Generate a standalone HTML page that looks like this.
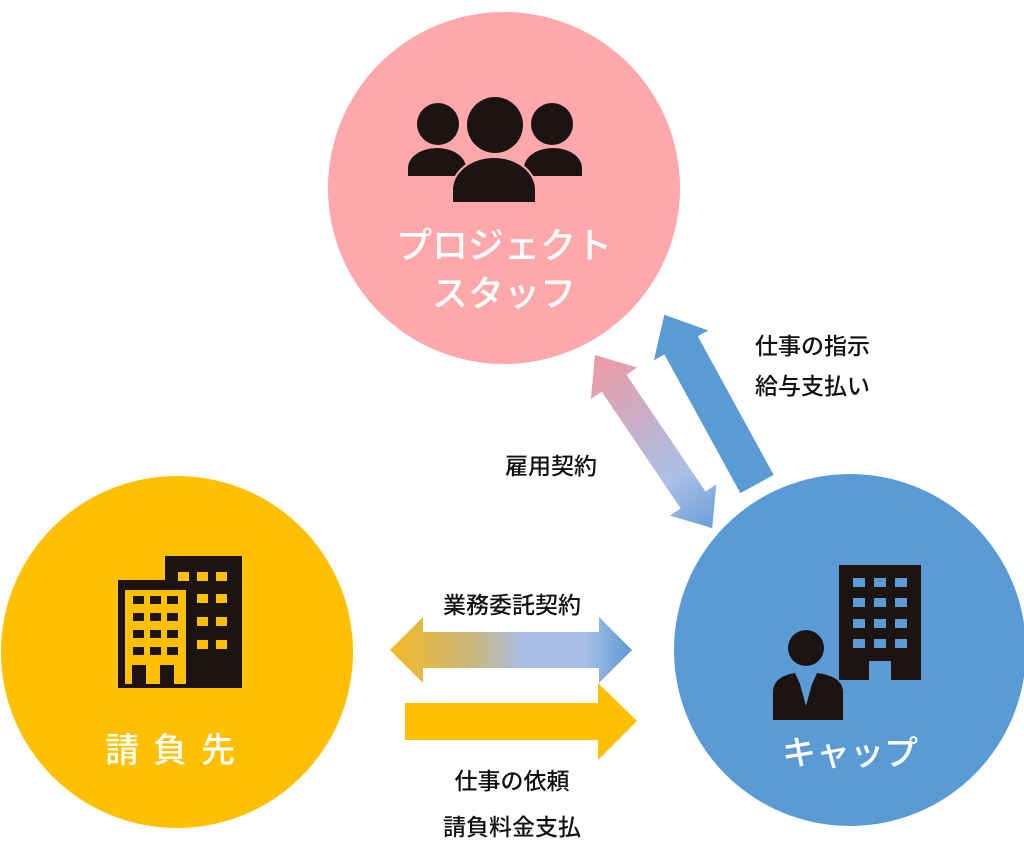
<!DOCTYPE html>
<html><head><meta charset="utf-8"><style>
html,body{margin:0;padding:0;background:#fff;}
svg{display:block}
text{font-family:"Liberation Sans","Noto Sans CJK JP",sans-serif;}
</style></head><body>
<svg width="1024" height="848" viewBox="0 0 1024 848" xmlns="http://www.w3.org/2000/svg">
<defs>
<linearGradient id="gd" x1="0" y1="0" x2="1" y2="0">
<stop offset="0" stop-color="#ef9aa4"/><stop offset="0.7" stop-color="#a9c0e6"/><stop offset="1" stop-color="#6d9fd8"/>
</linearGradient>
<linearGradient id="gh" x1="0" y1="0" x2="1" y2="0">
<stop offset="0" stop-color="#f3bb22"/><stop offset="0.35" stop-color="#c8b780"/><stop offset="0.55" stop-color="#a9bfe6"/><stop offset="0.8" stop-color="#a9bfe6"/><stop offset="1" stop-color="#5b9bd5"/>
</linearGradient>
</defs>
<circle cx="504" cy="188" r="176" fill="#fea8ab"/>
<circle cx="177" cy="652" r="176" fill="#fec000"/>
<circle cx="850" cy="650" r="176" fill="#5b9bd5"/>

<g fill="#1c1413">
<circle cx="495" cy="125" r="28"/>
<circle cx="438" cy="124" r="21"/>
<circle cx="552" cy="124" r="21"/>
<path d="M408 176 V168 a29 20 0 0 1 58 0 V176 Z"/>
<path d="M524 176 V168 a29 20 0 0 1 58 0 V176 Z"/>
<path d="M453 202 V190 a41 32 0 0 1 82 0 V202 Z" stroke="#fea8ab" stroke-width="4" paint-order="stroke"/>
</g>
<text x="504" y="258" font-size="36" fill="#fff" text-anchor="middle" font-weight="500">プロジェクト</text>
<text x="504" y="306" font-size="36" fill="#fff" text-anchor="middle" font-weight="500">スタッフ</text>

<g fill="#1c1413">
<rect x="165" y="556" width="77" height="132"/>
<rect x="118" y="580" width="74" height="108"/>
</g>
<g fill="#fec000">
<path d="M125 590 H186 V684 H174 V665 H160 V684 H146 V665 H132 V684 H125 Z"/>
<rect x="178" y="572" width="11" height="9"/><rect x="197" y="572" width="11" height="9"/><rect x="216" y="572" width="11" height="9"/>
<rect x="197" y="594" width="11" height="9"/><rect x="216" y="594" width="11" height="9"/>
<rect x="197" y="617" width="11" height="9"/><rect x="216" y="617" width="11" height="9"/>
<rect x="197" y="640" width="11" height="9"/><rect x="216" y="640" width="11" height="9"/>
</g>
<g fill="#1c1413">
<rect x="133" y="596" width="11" height="8"/><rect x="150" y="596" width="11" height="8"/><rect x="167" y="596" width="11" height="8"/>
<rect x="133" y="613" width="11" height="8"/><rect x="150" y="613" width="11" height="8"/><rect x="167" y="613" width="11" height="8"/>
<rect x="133" y="630" width="11" height="8"/><rect x="150" y="630" width="11" height="8"/><rect x="167" y="630" width="11" height="8"/>
<rect x="133" y="647" width="11" height="8"/><rect x="150" y="647" width="11" height="8"/><rect x="167" y="647" width="11" height="8"/>
</g>
<text x="177" y="762" font-size="34" fill="#fff" text-anchor="middle" font-weight="500" letter-spacing="14">請負先</text>

<g fill="#1c1413">
<path d="M839 565 H921 V680 H891 V661 H869 V680 H839 Z"/>
<circle cx="806" cy="648" r="18"/>
<path d="M773 720 V690 Q775 676 795 673 L800 684 L806 706 L812 684 L817 673 Q841 676 843 690 V720 Z"/>
</g>
<g fill="#5b9bd5">
<rect x="853" y="578" width="12" height="9"/><rect x="874" y="578" width="12" height="9"/><rect x="895" y="578" width="12" height="9"/>
<rect x="853" y="598" width="12" height="9"/><rect x="874" y="598" width="12" height="9"/><rect x="895" y="598" width="12" height="9"/>
<rect x="853" y="619" width="12" height="9"/><rect x="874" y="619" width="12" height="9"/><rect x="895" y="619" width="12" height="9"/>
<rect x="853" y="639" width="12" height="9"/><rect x="874" y="639" width="12" height="9"/><rect x="895" y="639" width="12" height="9"/>
</g>
<text x="850" y="765" font-size="34" fill="#fff" text-anchor="middle" font-weight="500">キャップ</text>

<g transform="translate(757,484) rotate(-118.7)">
<polygon points="0,-19 158,-19 158,-31 193,0 158,31 158,19 0,19" fill="#5b9bd5"/>
</g>
<g transform="translate(595,355) rotate(55.9)">
<polygon points="0,0 34,-28 34,-15 175,-15 175,-28 209,0 175,28 175,15 34,15 34,28" fill="url(#gd)"/>
</g>
<polygon points="390,650 423,617 423,632 599,632 599,617 632,650 599,683 599,668 423,668 423,683" fill="url(#gh)"/>
<polygon points="405,703 598,703 598,683 637,721 598,760 598,740 405,740" fill="#fec000"/>

<g font-size="23" fill="#111" font-weight="500">
<text x="755" y="354">仕事の指示</text>
<text x="755" y="394">給与支払い</text>
<text x="505" y="474">雇用契約</text>
<text x="512" y="613" text-anchor="middle">業務委託契約</text>
<text x="512" y="789" text-anchor="middle">仕事の依頼</text>
<text x="512" y="835" text-anchor="middle">請負料金支払</text>
</g>
</svg>
</body></html>
